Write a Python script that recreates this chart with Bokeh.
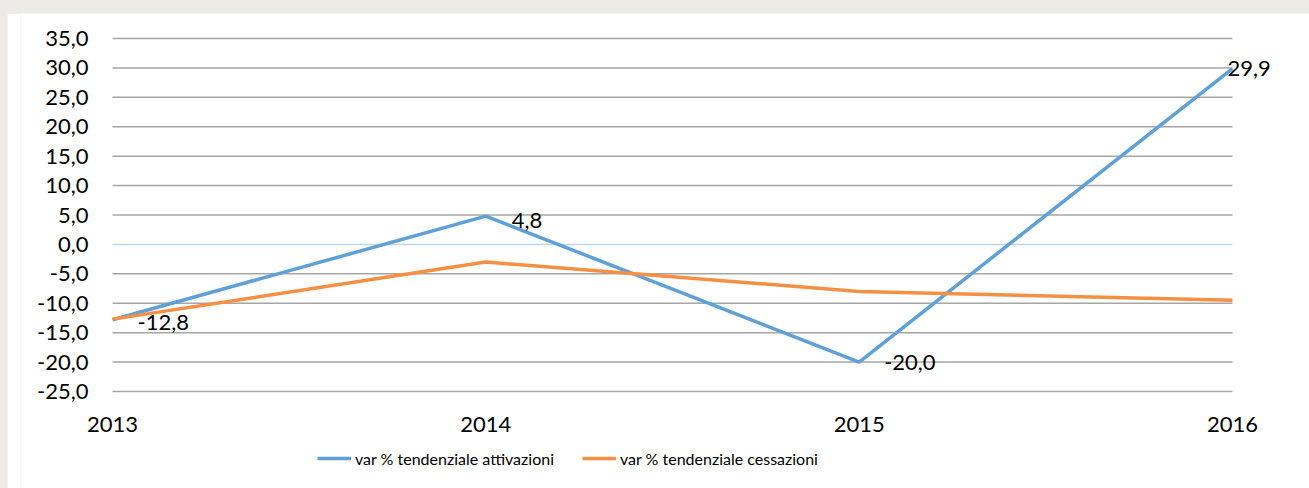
from bokeh.plotting import figure
from bokeh.models import Range1d, Legend, LegendItem, ColumnDataSource, FixedTicker, LabelSet
from bokeh.core.properties import value
from bokeh.embed import file_html
from bokeh.resources import INLINE

years = [2013, 2014, 2015, 2016]
attivazioni = [-12.8, 4.8, -20.0, 29.9]
cessazioni = [-12.7, -3.0, -8.0, -9.5]
labels_att = ["-12,8", "4,8", "-20,0", "29,9"]
label_dx = [25, 26, 25, -5]
label_dy = [-3, -4, 0, 0]
y_ticks = [-25, -20, -15, -10, -5, 0, 5, 10, 15, 20, 25, 30, 35]

FONT = "Lato"
BLUE = "#5FA0D9"
ORANGE = "#F58F43"

# scale: 1120 px for the 3-year span, 353 px for the 60-unit value span;
# the frame is larger so axis labels, data labels and legend sit inside it unclipped
X_PX, Y_PX = 1120, 353
LEFT_PAD = 92          # px of frame left of the first year
TOP_PAD = 25           # px of frame above the top tick
FRAME_W, FRAME_H = 1289, 475
x_per_px = (years[-1] - years[0]) / X_PX
y_per_px = (y_ticks[-1] - y_ticks[0]) / Y_PX
x_start = years[0] - LEFT_PAD * x_per_px
x_end = x_start + FRAME_W * x_per_px
y_end = y_ticks[-1] + TOP_PAD * y_per_px
y_start = y_end - FRAME_H * y_per_px

p = figure(output_backend="svg", toolbar_location=None,
           x_range=Range1d(x_start, x_end), y_range=Range1d(y_start, y_end),
           frame_width=FRAME_W, frame_height=FRAME_H,
           min_border_left=13, min_border_top=0, min_border_right=0, min_border_bottom=0)
p.background_fill_color = "white"
p.border_fill_color = "white"
p.outline_line_color = None

p.xaxis.ticker = FixedTicker(ticks=years)
p.xaxis.fixed_location = y_ticks[0]
p.yaxis.ticker = FixedTicker(ticks=y_ticks)
p.yaxis.fixed_location = years[0]
p.yaxis.major_label_overrides = {t: f"{t:.1f}".replace(".", ",") for t in y_ticks}
for ax in (p.xaxis, p.yaxis):
    ax.axis_line_color = None
    ax.major_tick_line_color = None
    ax.minor_tick_line_color = None
    ax.major_tick_out = 0
    ax.major_tick_in = 0
    ax.major_label_text_font = FONT
    ax.major_label_text_font_size = "22px"
    ax.major_label_text_color = "#000000"
p.yaxis.major_label_standoff = 24
p.xaxis.major_label_standoff = 25

p.xgrid.grid_line_color = None
p.ygrid.grid_line_color = None
grid_y = [t for t in y_ticks if t != 0]
p.segment(x0=[years[0]] * len(grid_y), x1=[years[-1]] * len(grid_y), y0=grid_y, y1=grid_y,
          line_color="#a6a6a6", line_width=1.5)
p.segment(x0=[years[0]], x1=[years[-1]], y0=[0], y1=[0], line_color="#bdd7ee", line_width=1.5)

r1 = p.line(years, attivazioni, line_color=BLUE, line_width=3.5)
r2 = p.line(years, cessazioni, line_color=ORANGE, line_width=3.5)

src = ColumnDataSource(dict(x=years, y=attivazioni, t=labels_att, dx=label_dx, dy=label_dy))
labels = LabelSet(x="x", y="y", text="t", source=src, x_offset="dx", y_offset="dy",
                  text_font=value(FONT), text_font_size=value("22px"), text_color="#000000",
                  text_align="left", text_baseline="middle")
p.add_layout(labels)

legend = Legend(items=[LegendItem(label="var % tendenziale attivazioni", renderers=[r1]),
                       LegendItem(label="var % tendenziale cessazioni", renderers=[r2])],
                orientation="horizontal", location=(LEFT_PAD + 205, 20),
                glyph_width=34, glyph_height=20, label_height=20, label_standoff=4, spacing=28,
                padding=0, margin=0, border_line_color=None, background_fill_alpha=0,
                label_text_font=FONT, label_text_font_size="16px", label_text_color="#000000")
p.add_layout(legend, "center")

html = file_html(p, INLINE)
html = html.replace("</head>", "<style>html,body{background:#eeeae6;} body{margin:13px 0 0 7px;}</style></head>", 1)
open("out.html", "w").write(html)
